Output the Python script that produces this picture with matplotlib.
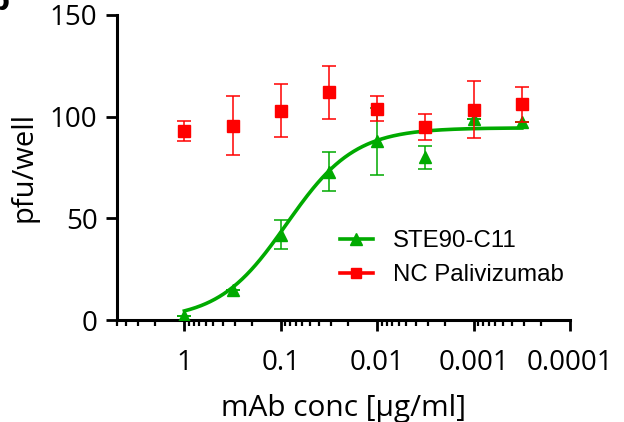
import numpy as np
import matplotlib
matplotlib.use("Agg")
import matplotlib.pyplot as plt

# Data
conc = [1, 0.316, 0.1, 0.0316, 0.01, 0.00316, 0.001, 0.000316]
ste_mean = [2, 15, 42, 73, 88, 80, 99, 97.5]
ste_err = [0, 0, 7, 9.5, 16.5, 5.5, 0, 0]
nc_mean = [93, 95.5, 103, 112, 104, 95, 103.5, 106]
nc_err = [5, 14.5, 13, 13, 6, 6.5, 14, 8.5]
# fitted 4PL curve parameters for STE90-C11
fit_top, fit_bottom, fit_ic50, fit_hill = 94.5, 0.0, 0.087, 1.23

xticks = [1, 0.1, 0.01, 0.001, 0.0001]
xticklabels = ["1", "0.1", "0.01", "0.001", "0.0001"]
yticks = [0, 50, 100, 150]

green = "#00AA00"
red = "#FF0000"

fig = plt.figure(figsize=(6.24, 4.22), dpi=100)
ax = fig.add_axes([0.1875, 0.2417, 0.726, 0.7228])

xc = np.logspace(np.log10(conc[0]), np.log10(conc[-1]), 300)
yc = fit_bottom + (fit_top - fit_bottom) / (1 + (xc / fit_ic50) ** fit_hill)
ax.plot(xc, yc, color=green, lw=2.6, zorder=3)

ax.errorbar(conc, ste_mean, yerr=ste_err, fmt="^", color=green, ms=8.5,
            ecolor=green, elinewidth=1.1, capsize=5, capthick=1.1, zorder=4)
ax.errorbar(conc, nc_mean, yerr=nc_err, fmt="s", color=red, ms=8.5,
            ecolor=red, elinewidth=1.1, capsize=5, capthick=1.1, zorder=5)

# legend handles
h1, = ax.plot([], [], color=green, lw=2.6, marker="^", ms=8)
h2, = ax.plot([], [], color=red, lw=2.6, marker="s", ms=7)
leg = ax.legend([h1, h2], ["STE90-C11", "NC Palivizumab"], loc="upper left",
                bbox_to_anchor=(0.471, 0.325), frameon=False, handlelength=1.36,
                handletextpad=0.85, labelspacing=0.5, borderaxespad=0,
                prop={"family": "Liberation Sans", "size": 17.3})

ax.set_xscale("log")
ax.set_xlim(5, 0.0001)
ax.set_ylim(0, 150)
ax.set_xticks(xticks)
ax.set_xticklabels(xticklabels)
ax.set_yticks(yticks)

for s in ["top", "right"]:
    ax.spines[s].set_visible(False)
for s in ["left", "bottom"]:
    ax.spines[s].set_linewidth(2.2)

ax.tick_params(axis="both", which="major", length=8, width=2.0,
               labelsize=20, direction="out", pad=6)
ax.tick_params(axis="x", which="major", pad=13)
ax.tick_params(axis="x", which="minor", length=4, width=1.6, direction="out")
for lab in ax.get_xticklabels() + ax.get_yticklabels():
    lab.set_family("Open Sans")

ax.set_xlabel("mAb conc [µg/ml]", fontsize=21.5, family="Open Sans", labelpad=12)
ax.set_ylabel("pfu/well", fontsize=21, family="Open Sans", labelpad=8)

fig.text(-0.016, 1.028, "b", fontsize=20, fontweight="bold", va="top", ha="left")

fig.savefig("out.png", dpi=100)
